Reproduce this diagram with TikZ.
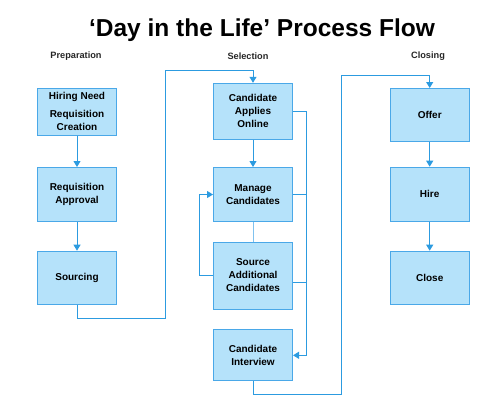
\documentclass[tikz,border=0pt]{standalone}
\usepackage{fontspec}
\setmainfont{Liberation Sans}
\usetikzlibrary{arrows.meta}

\definecolor{boxfill}{RGB}{181,226,250}
\definecolor{boxline}{RGB}{74,168,232}
\definecolor{flowline}{RGB}{44,155,224}

\begin{document}
\begin{tikzpicture}[x=1pt,y=-1pt,
    stagebox/.style={draw=boxline, fill=boxfill, line width=1pt, minimum width=79pt,
      align=center, inner sep=2pt, font=\fontsize{10}{13}\selectfont\bfseries},
    flow/.style={draw=flowline, line width=1pt},
    flowarrow/.style={flow, -{Triangle[width=7pt,length=6pt]}},
    phase/.style={font=\fontsize{9.2}{11}\selectfont\bfseries, text=black!85}]

    \useasboundingbox (0,0) rectangle (502,418);

    \node[font=\fontsize{24.5}{28}\selectfont\bfseries] (title) at (262,30) {‘Day in the Life’ Process Flow};

    \node[phase] (prep) at (76,56) {Preparation};
    \node[phase] (sel) at (248,56) {Selection};
    \node[phase] (clos) at (428,56) {Closing};

    % preparation
    \node[stagebox, minimum height=47pt] (need) at (77,111.7) {Hiring Need\\[5pt]Requisition\\Creation};
    \node[stagebox, minimum height=54pt] (approval) at (77,194.5) {Requisition\\Approval};
    \node[stagebox, minimum height=53pt] (sourcing) at (77,277.7) {Sourcing};

    % selection
    \node[stagebox, minimum height=56pt] (applies) at (253,111.3) {Candidate\\Applies\\Online};
    \node[stagebox, minimum height=54pt] (manage) at (253,194.5) {Manage\\Candidates};
    \node[stagebox, minimum height=67pt] (additional) at (253,275.5) {Source\\Additional\\Candidates};
    \node[stagebox, minimum height=51pt] (interview) at (253,355.3) {Candidate\\Interview};

    % closing
    \node[stagebox, minimum height=53pt] (offer) at (429.7,115) {Offer};
    \node[stagebox, minimum height=54pt] (hire) at (429.7,194.2) {Hire};
    \node[stagebox, minimum height=53pt] (close) at (429.7,277.7) {Close};

    \coordinate (prepout) at (165,318.3);
    \coordinate (prepup) at (165,70);
    \coordinate (selbus) at (306.7,355.3);
    \coordinate (selout) at (341.7,394.3);
    \coordinate (selup) at (341.7,75);

    \draw[flowarrow] (need) -- (approval);
    \draw[flowarrow] (approval) -- (sourcing);
    \draw[flowarrow] (sourcing.south) |- (prepout) -- (prepup) -| (applies.north);

    \draw[flowarrow] (applies) -- (manage);
    \draw[flow, draw=boxline!70] (manage) -- (additional);
    \draw[flowarrow] (applies.east) -| (selbus) -- (interview.east);
    \draw[flow] (manage.east) -- (manage.east -| selbus);
    \draw[flow] ([yshift=-7pt]additional.east) -- ([yshift=-7pt]additional.east -| selbus);
    \draw[flowarrow] (additional.west) -- ++(-13.3,0) |- (manage.west);
    \draw[flowarrow] (interview.south) |- (selout) -- (selup) -| (offer.north);

    \draw[flowarrow] (offer) -- (hire);
    \draw[flowarrow] (hire) -- (close);

  \end{tikzpicture}
\end{document}
